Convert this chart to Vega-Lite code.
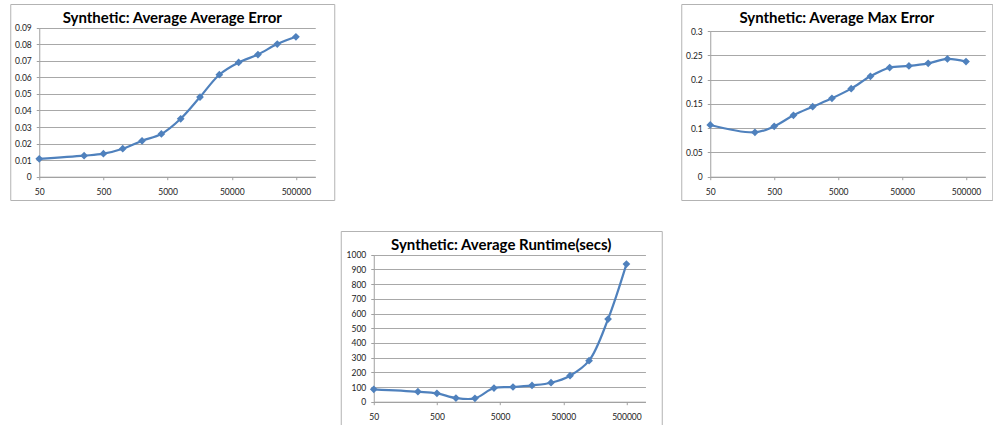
{
  "$schema": "https://vega.github.io/schema/vega-lite/v6.json",
  "background": "white",
  "padding": {"left": 9, "top": 3, "right": 0, "bottom": 0},
  "datasets": {
    "avgerr": [
      {"n": 50, "v": 0.0108}, {"n": 250, "v": 0.0127}, {"n": 500, "v": 0.0139},
      {"n": 1000, "v": 0.0169}, {"n": 2000, "v": 0.0217}, {"n": 4000, "v": 0.0258},
      {"n": 8000, "v": 0.035}, {"n": 16000, "v": 0.0481}, {"n": 32000, "v": 0.0616},
      {"n": 64000, "v": 0.069}, {"n": 128000, "v": 0.0738}, {"n": 256000, "v": 0.0801},
      {"n": 500000, "v": 0.0845}
    ],
    "maxerr": [
      {"n": 50, "v": 0.1065}, {"n": 250, "v": 0.0913}, {"n": 500, "v": 0.1037},
      {"n": 1000, "v": 0.1264}, {"n": 2000, "v": 0.1442}, {"n": 4000, "v": 0.1614},
      {"n": 8000, "v": 0.1813}, {"n": 16000, "v": 0.2067}, {"n": 32000, "v": 0.2246},
      {"n": 64000, "v": 0.228}, {"n": 128000, "v": 0.2335}, {"n": 256000, "v": 0.2424},
      {"n": 500000, "v": 0.237}
    ],
    "runtime": [
      {"n": 50, "v": 84}, {"n": 250, "v": 68}, {"n": 500, "v": 57},
      {"n": 1000, "v": 25}, {"n": 2000, "v": 23}, {"n": 4000, "v": 93},
      {"n": 8000, "v": 100}, {"n": 16000, "v": 111}, {"n": 32000, "v": 129},
      {"n": 64000, "v": 177}, {"n": 128000, "v": 279}, {"n": 256000, "v": 562},
      {"n": 500000, "v": 936}
    ]
  },
  "vconcat": [
    {
      "hconcat": [
        {
          "width": 324, "height": 196,
          "title": {"text": "Synthetic: Average Average Error"},
          "data": {"name": "avgerr"},
          "mark": {"type": "line", "interpolate": "catmull-rom", "point": {"shape": "diamond", "filled": true, "size": 60, "color": "#4F81BD", "opacity": 1}},
          "encoding": {
            "x": {"field": "n", "type": "quantitative",
                  "scale": {"type": "log", "domain": [50, 1000000], "range": [29, 305], "nice": false, "zero": false},
                  "axis": {"values": [50, 500, 5000, 50000, 500000], "format": "d", "offset": -23.3, "grid": false, "title": null}},
            "y": {"field": "v", "type": "quantitative",
                  "scale": {"domain": [0, 0.09], "range": [172.7, 23.7], "nice": false},
                  "axis": {"values": [0, 0.01, 0.02, 0.03, 0.04, 0.05, 0.06, 0.07, 0.08, 0.09], "format": ".2~f", "offset": -29, "grid": true, "title": null}}
          }
        },
        {
          "width": 311, "height": 196,
          "title": {"text": "Synthetic: Average Max Error"},
          "data": {"name": "maxerr"},
          "mark": {"type": "line", "interpolate": "catmull-rom", "point": {"shape": "diamond", "filled": true, "size": 60, "color": "#4F81BD", "opacity": 1}},
          "encoding": {
            "x": {"field": "n", "type": "quantitative",
                  "scale": {"type": "log", "domain": [50, 1000000], "range": [29, 304], "nice": false, "zero": false},
                  "axis": {"values": [50, 500, 5000, 50000, 500000], "format": "d", "offset": -23.3, "grid": false, "title": null}},
            "y": {"field": "v", "type": "quantitative",
                  "scale": {"domain": [0, 0.3], "range": [172.7, 27], "nice": false},
                  "axis": {"values": [0, 0.05, 0.1, 0.15, 0.2, 0.25, 0.3], "format": ".2~f", "offset": -29, "grid": true, "title": null}}
          }
        }
      ],
      "spacing": 345
    },
    {
      "width": 321, "height": 196,
      "title": {"text": "Synthetic: Average Runtime(secs)"},
      "data": {"name": "runtime"},
      "mark": {"type": "line", "interpolate": "catmull-rom", "point": {"shape": "diamond", "filled": true, "size": 60, "color": "#4F81BD", "opacity": 1}},
      "encoding": {
        "x": {"field": "n", "type": "quantitative",
              "scale": {"type": "log", "domain": [50, 1000000], "range": [33, 304.7], "nice": false, "zero": false},
              "axis": {"values": [50, 500, 5000, 50000, 500000], "format": "d", "offset": -25.3, "grid": false, "title": null}},
        "y": {"field": "v", "type": "quantitative",
              "scale": {"domain": [0, 1000], "range": [170.7, 23.7], "nice": false},
              "axis": {"values": [0, 100, 200, 300, 400, 500, 600, 700, 800, 900, 1000], "format": "d", "offset": -33, "grid": true, "title": null}}
      }
    }
  ],
  "spacing": 29,
  "center": true,
  "config": {
    "view": {"stroke": "#B3B3B3", "strokeWidth": 1},
    "line": {"color": "#4F81BD", "strokeWidth": 2.2},
    "title": {"font": "Lato", "fontSize": 15, "fontWeight": "bold", "color": "#000000", "offset": -22, "anchor": "middle"},
    "axis": {
      "labelFont": "Lato", "labelFontSize": 8.5, "labelColor": "#222222",
      "domainColor": "#A0A0A0", "tickColor": "#A0A0A0", "tickSize": 3,
      "gridColor": "#A8A8A8", "gridWidth": 1,
      "labelFlush": false, "labelPadding": 5
    },
    "axisX": {"labelPadding": 8}
  }
}
